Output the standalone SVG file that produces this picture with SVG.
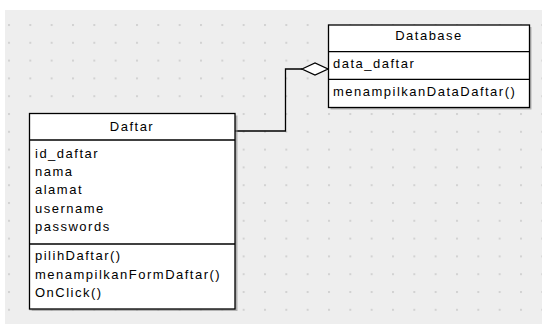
<svg xmlns="http://www.w3.org/2000/svg" width="542" height="324" viewBox="0 0 542 324">
  <style>
    .lbl { font-family: "Liberation Sans", Arial, sans-serif; font-size: 13px; letter-spacing: 1.5px; fill: #000; }
    .box { fill: #fff; stroke: #000; stroke-width: 1.3; }
    .sep { stroke: #000; stroke-width: 1.3; }
    .shadow { fill: #8c8c8c; opacity: 0.6; }
    .conn { fill: none; stroke: #000; stroke-width: 1.3; }
  </style>
  <defs>
    <pattern id="grid" patternUnits="userSpaceOnUse" x="8" y="24" width="21.333" height="17.8">
      <rect x="0" y="0" width="2" height="2" fill="#d2d2d2"/>
    </pattern>
  </defs>

  <!-- canvas -->
  <rect x="0" y="0" width="542" height="324" fill="#ffffff"/>
  <rect x="5" y="10" width="537" height="314" fill="#eeeeee"/>
  <rect x="5" y="10" width="537" height="314" fill="url(#grid)"/>

  <!-- connectors -->
  <g id="connectors">
    <polyline class="conn" points="235,131 285.5,131 285.5,69 302,69"/>
    <polygon class="conn" fill="#fff" points="302,69 315,63 328,69 315,75" style="fill:#fff"/>
  </g>

  <!-- class Daftar -->
  <g id="daftar">
    <rect class="shadow" x="31.5" y="115.5" width="206" height="195.5"/>
    <rect class="box" x="29.5" y="113.5" width="205.5" height="195.5"/>
    <line class="sep" x1="29.5" y1="140" x2="235" y2="140"/>
    <line class="sep" x1="29.5" y1="244" x2="235" y2="244"/>
    <text class="lbl" x="132" y="131" text-anchor="middle">Daftar</text>
    <text class="lbl" x="35" y="157.5">id_daftar</text>
    <text class="lbl" x="35" y="176">nama</text>
    <text class="lbl" x="35" y="194.3">alamat</text>
    <text class="lbl" x="35" y="212.7">username</text>
    <text class="lbl" x="35" y="231.1">passwords</text>
    <text class="lbl" x="35" y="260">pilihDaftar()</text>
    <text class="lbl" x="35" y="278.7">menampilkanFormDaftar()</text>
    <text class="lbl" x="35" y="297.4">OnClick()</text>
  </g>

  <!-- class Database -->
  <g id="database">
    <rect class="shadow" x="330.5" y="27" width="201" height="82.5"/>
    <rect class="box" x="328.5" y="25" width="201" height="82.5"/>
    <line class="sep" x1="328.5" y1="51.7" x2="529.5" y2="51.7"/>
    <line class="sep" x1="328.5" y1="79.3" x2="529.5" y2="79.3"/>
    <text class="lbl" x="429" y="40" text-anchor="middle">Database</text>
    <text class="lbl" x="333" y="67.5">data_daftar</text>
    <text class="lbl" x="333" y="95.5">menampilkanDataDaftar()</text>
  </g>
</svg>
